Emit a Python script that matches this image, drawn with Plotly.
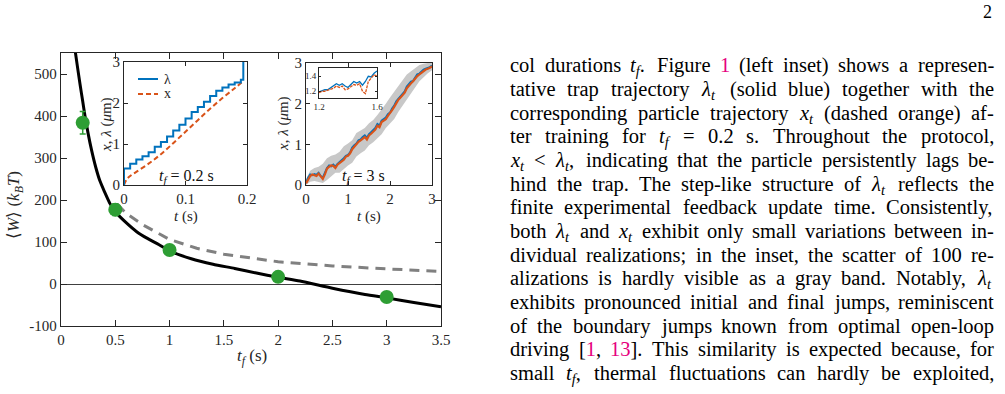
import re
import plotly.graph_objects as go

W, H = 1005, 394
SERIF = "Liberation Serif, Times New Roman, serif"
AX = "#262626"
BLUE = "#0072bd"
ORANGE = "#d95319"
GREEN = "#2e9e34"
MAG = "#e6007e"

# ---------------- main panel data ----------------
tf_exp = [0.2, 0.5, 1.0, 2.0, 3.0]
W_exp = [384, 177, 81, 17, -31]
W_err = [27, 14, 4, 4, 4]

tf_fb = [0.13, 0.15, 0.175, 0.2, 0.221, 0.25, 0.282, 0.32, 0.359, 0.4, 0.45, 0.5,
         0.6, 0.7, 0.8, 0.9, 1.0, 1.2, 1.4, 1.6, 1.8, 2.0, 2.2, 2.5, 2.8, 3.0, 3.25, 3.5]
W_fb = [556, 520, 476, 435, 400, 358, 318, 278, 245, 220, 192, 172,
        146, 124, 108, 94, 79, 60, 47, 37, 26, 16, 7, -10, -25, -33, -44, -54]

tf_ol = [0.52, 0.6, 0.76, 1.0, 1.25, 1.5, 2.0, 2.5, 3.0, 3.5]
W_ol = [190, 168, 140, 106, 85, 71, 53, 43, 36, 30]

x_main_ticks = [0, 0.5, 1, 1.5, 2, 2.5, 3, 3.5]
x_main_labels = ["0", "0.5", "1", "1.5", "2", "2.5", "3", "3.5"]
y_main_ticks = [-100, 0, 100, 200, 300, 400, 500]
y_main_labels = ["-100", "0", "100", "200", "300", "400", "500"]

# ---------------- left inset (tf = 0.2 s) ----------------
t_lam = [0, 0, 0.01, 0.02, 0.03, 0.04, 0.05, 0.06, 0.07, 0.08, 0.09, 0.10, 0.11,
         0.12, 0.13, 0.14, 0.15, 0.16, 0.17, 0.18, 0.19, 0.194, 0.2]
lam = [0, 0.40, 0.52, 0.62, 0.70, 0.80, 0.93, 1.05, 1.18, 1.33, 1.47, 1.62, 1.78,
       1.90, 2.03, 2.17, 2.30, 2.38, 2.45, 2.50, 2.57, 3.05, 3.05]
t_x = [0, 0.005, 0.01, 0.02, 0.04, 0.06, 0.08, 0.10, 0.12, 0.14, 0.16, 0.18, 0.195]
x_pos = [0, 0.15, 0.22, 0.32, 0.52, 0.75, 1.02, 1.30, 1.58, 1.86, 2.12, 2.36, 2.55]

# ---------------- right inset (tf = 3 s) ----------------
t3 = [0.00, 0.05, 0.10, 0.15, 0.20, 0.25, 0.30, 0.35, 0.40, 0.45, 0.50, 0.55, 0.60, 0.65,
      0.70, 0.75, 0.80, 0.85, 0.90, 0.95, 1.00, 1.05, 1.10, 1.15, 1.20, 1.25, 1.30, 1.35,
      1.40, 1.45, 1.50, 1.55, 1.60, 1.65, 1.70, 1.75, 1.80, 1.85, 1.90, 1.95, 2.00, 2.05,
      2.10, 2.15, 2.20, 2.25, 2.30, 2.35, 2.40, 2.45, 2.50, 2.55, 2.60, 2.65, 2.70, 2.75,
      2.80, 2.85, 2.90, 2.95, 3.00]
lam3 = [0.05, 0.18, 0.26, 0.24, 0.27, 0.25, 0.30, 0.22, 0.18, 0.30, 0.42, 0.48, 0.46, 0.50,
        0.45, 0.52, 0.56, 0.60, 0.66, 0.72, 0.74, 0.80, 0.92, 0.98, 1.02, 1.10, 1.12, 1.18,
        1.22, 1.16, 1.25, 1.30, 1.36, 1.40, 1.50, 1.46, 1.58, 1.62, 1.66, 1.74, 1.78, 1.88,
        1.95, 2.06, 2.12, 2.18, 2.22, 2.30, 2.42, 2.48, 2.54, 2.56, 2.66, 2.72, 2.74, 2.80,
        2.84, 2.86, 2.88, 2.90, 2.94]
x3 = [0.04, 0.15, 0.22, 0.26, 0.24, 0.22, 0.28, 0.20, 0.15, 0.26, 0.40, 0.45, 0.48, 0.47,
      0.42, 0.50, 0.53, 0.58, 0.62, 0.70, 0.72, 0.78, 0.88, 0.95, 1.00, 1.06, 1.10, 1.14,
      1.18, 1.12, 1.22, 1.26, 1.32, 1.36, 1.46, 1.42, 1.55, 1.58, 1.62, 1.70, 1.76, 1.84,
      1.92, 2.02, 2.10, 2.15, 2.20, 2.27, 2.38, 2.45, 2.50, 2.55, 2.62, 2.68, 2.72, 2.76,
      2.82, 2.84, 2.86, 2.88, 2.92]
t_band = [0.0, 0.1, 0.2, 0.3, 0.4, 0.5, 0.6, 0.7, 0.8, 0.9, 1.0, 1.1, 1.2, 1.3, 1.4, 1.5,
          1.6, 1.7, 1.8, 1.9, 2.0, 2.1, 2.2, 2.3, 2.4, 2.5, 2.6, 2.7, 2.8, 2.9, 3.0]
band_lo = [0.00, 0.08, 0.10, 0.08, 0.05, 0.12, 0.22, 0.30, 0.30, 0.40, 0.48, 0.55, 0.70,
           0.78, 0.85, 0.98, 1.05, 1.15, 1.25, 1.40, 1.52, 1.62, 1.80, 1.95, 2.10, 2.25,
           2.40, 2.55, 2.65, 2.75, 2.82]
band_hi = [0.15, 0.35, 0.42, 0.45, 0.52, 0.66, 0.72, 0.75, 0.82, 0.95, 1.02, 1.10, 1.28,
           1.35, 1.40, 1.52, 1.60, 1.72, 1.85, 2.00, 2.15, 2.30, 2.45, 2.60, 2.72, 2.80,
           2.88, 2.95, 2.98, 3.00, 3.00]

# zoomed sub-inset
t_zoom = [1.20, 1.22, 1.24, 1.26, 1.28, 1.30, 1.32, 1.34, 1.36, 1.38, 1.40, 1.42, 1.44,
          1.46, 1.48, 1.50, 1.52, 1.54, 1.56, 1.58, 1.60]
lam_zoom = [1.19, 1.21, 1.22, 1.22, 1.25, 1.27, 1.30, 1.28, 1.30, 1.27, 1.25, 1.29, 1.33,
            1.31, 1.33, 1.28, 1.33, 1.40, 1.39, 1.44, 1.47]
x_zoom = [1.18, 1.20, 1.20, 1.21, 1.23, 1.24, 1.27, 1.25, 1.27, 1.22, 1.23, 1.26, 1.29,
          1.28, 1.30, 1.20, 1.17, 1.33, 1.38, 1.42, 1.40]

# ---------------- body text ----------------
REF = "<span style='color:" + MAG + "'>"
body_lines = [
    "col durations <i>t<sub>f</sub></i>. Figure " + REF + "1</span> (left inset) shows a represen-",
    "tative trap trajectory <i>λ<sub>t</sub></i> (solid blue) together with the",
    "corresponding particle trajectory <i>x<sub>t</sub></i> (dashed orange) af-",
    "ter training for <i>t<sub>f</sub></i> = 0.2 s. Throughout the protocol,",
    "<i>x<sub>t</sub></i> &lt; <i>λ<sub>t</sub></i>, indicating that the particle persistently lags be-",
    "hind the trap. The step-like structure of <i>λ<sub>t</sub></i> reflects the",
    "finite experimental feedback update time. Consistently,",
    "both <i>λ<sub>t</sub></i> and <i>x<sub>t</sub></i> exhibit only small variations between in-",
    "dividual realizations; in the inset, the scatter of 100 re-",
    "alizations is hardly visible as a gray band. Notably, <i>λ<sub>t</sub></i>",
    "exhibits pronounced initial and final jumps, reminiscent",
    "of the boundary jumps known from optimal open-loop",
    "driving [" + REF + "1</span>, " + REF + "13</span>]. This similarity is expected because, for",
    "small <i>t<sub>f</sub></i>, thermal fluctuations can hardly be exploited,",
]

# ---------------- helpers ----------------
def pxx(x):
    return x / W

def pyy(y):
    return 1 - y / H

CW = {'a': 444, 'b': 500, 'c': 444, 'd': 500, 'e': 444, 'f': 333, 'g': 500, 'h': 500,
      'i': 278, 'j': 278, 'k': 500, 'l': 278, 'm': 778, 'n': 500, 'o': 500, 'p': 500,
      'q': 500, 'r': 333, 's': 389, 't': 278, 'u': 500, 'v': 500, 'w': 722, 'x': 500,
      'y': 500, 'z': 444, '.': 250, ',': 250, '-': 333, '(': 333, ')': 333, ';': 278,
      '[': 333, ']': 333, '=': 564, '<': 564, ' ': 250, 'F': 556, 'T': 611, 'C': 667,
      'N': 722, 'λ': 540}

def word_width(html, fs):
    w = 0.0
    sub = False
    ital = False
    for tok in re.split(r'(<[^>]+>)', html):
        if tok.startswith('<'):
            if tok.startswith('<sub'):
                sub = True
            elif tok.startswith('</sub'):
                sub = False
            elif tok == '<i>':
                ital = True
            elif tok == '</i>':
                ital = False
                w += 0.08  # italic correction
            continue
        tok = tok.replace('&lt;', '<')
        for ch in tok:
            cw = CW.get(ch, 500)
            if ital and ch == 'x':
                cw = 444
            if ital and ch == 'f':
                cw = 278
            w += cw / 1000.0 * (0.7 if sub else 1.0)
    return w * fs

fig = go.Figure()

# main panel
fig.add_trace(go.Scatter(x=tf_ol, y=W_ol, mode="lines", xaxis="x", yaxis="y",
                         line=dict(color="#808080", width=3, dash="10px,7px"),
                         showlegend=False, hoverinfo="skip"))
fig.add_trace(go.Scatter(x=tf_fb, y=W_fb, mode="lines", xaxis="x", yaxis="y",
                         line=dict(color="black", width=3, shape="spline", smoothing=0.6),
                         showlegend=False, hoverinfo="skip"))
fig.add_trace(go.Scatter(x=tf_exp, y=W_exp, mode="markers", xaxis="x", yaxis="y",
                         marker=dict(color=GREEN, size=14),
                         error_y=dict(type="data", array=W_err, color=GREEN, thickness=1.5, width=3),
                         showlegend=False, hoverinfo="skip"))

# left inset
fig.add_trace(go.Scatter(x=t_x, y=x_pos, mode="lines", xaxis="x2", yaxis="y2",
                         line=dict(color=ORANGE, width=2, dash="5px,3px", shape="spline"),
                         showlegend=False))
fig.add_trace(go.Scatter(x=t_lam, y=lam, mode="lines", xaxis="x2", yaxis="y2",
                         line=dict(color=BLUE, width=2, shape="hv"), showlegend=False))

# right inset
fig.add_trace(go.Scatter(x=t_band, y=band_lo, mode="lines", xaxis="x3", yaxis="y3",
                         line=dict(color="#c8c8c8", width=0), showlegend=False))
fig.add_trace(go.Scatter(x=t_band, y=band_hi, mode="lines", xaxis="x3", yaxis="y3",
                         line=dict(color="#c8c8c8", width=0), fill="tonexty",
                         fillcolor="#c8c8c8", showlegend=False))
fig.add_trace(go.Scatter(x=t3, y=lam3, mode="lines", xaxis="x3", yaxis="y3",
                         line=dict(color=BLUE, width=2), showlegend=False))
fig.add_trace(go.Scatter(x=t3, y=x3, mode="lines", xaxis="x3", yaxis="y3",
                         line=dict(color=ORANGE, width=2.2), showlegend=False))

# zoomed sub-inset
fig.add_trace(go.Scatter(x=t_zoom, y=lam_zoom, mode="lines", xaxis="x4", yaxis="y4",
                         line=dict(color=BLUE, width=1.3), showlegend=False))
fig.add_trace(go.Scatter(x=t_zoom, y=x_zoom, mode="lines", xaxis="x4", yaxis="y4",
                         line=dict(color=ORANGE, width=1.3, dash="3px,1px"), showlegend=False))

def axis(domain, rng, anchor, tickvals, ticktext, size=15, ticklen=6, lw=1.3, **kw):
    d = dict(domain=domain, range=rng, anchor=anchor, showline=True, mirror="ticks",
             linecolor=AX, linewidth=lw, ticks="inside", ticklen=ticklen, tickcolor=AX,
             tickwidth=1, tickvals=tickvals, ticktext=ticktext, showgrid=False,
             zeroline=False, automargin=False,
             tickfont=dict(family=SERIF, size=size, color=AX))
    d.update(kw)
    return d

layout = dict(
    template="none",
    width=W, height=H, margin=dict(l=0, r=0, t=0, b=0, pad=0, autoexpand=False),
    paper_bgcolor="white", plot_bgcolor="white", showlegend=False,
    xaxis=axis([pxx(61), pxx(441)], [0, 3.5], "y", x_main_ticks, x_main_labels),
    yaxis=axis([pyy(326), pyy(53)], [-100, 550], "x", y_main_ticks, y_main_labels,
               zeroline=True, zerolinecolor="#404040", zerolinewidth=1.2),
    xaxis2=axis([pxx(124), pxx(247)], [0, 0.2], "y2", [0, 0.1, 0.2], ["0", "0.1", "0.2"],
                ticklen=4, lw=1.1),
    yaxis2=axis([pyy(185), pyy(62)], [0, 3], "x2", [0, 1, 2, 3], ["0", "1", "2", "3"],
                ticklen=4, lw=1.1),
    xaxis3=axis([pxx(306), pxx(432)], [0, 3], "y3", [0, 1, 2, 3], ["0", "1", "2", "3"],
                ticklen=4, lw=1.1),
    yaxis3=axis([pyy(185), pyy(63)], [0, 3], "x3", [0, 1, 2, 3], ["0", "1", "2", "3"],
                ticklen=4, lw=1.1),
    xaxis4=axis([pxx(319), pxx(377)], [1.2, 1.6], "y4", [1.2, 1.6], ["1.2", "1.6"],
                size=9, ticklen=2, lw=1),
    yaxis4=axis([pyy(98), pyy(68)], [1.11, 1.51], "x4", [1.2, 1.4], ["1.2", "1.4"],
                size=9, ticklen=2, lw=1),
)
fig.update_layout(**layout)

ann = []
def add_text(x, y, text, size, xanchor="center", yanchor="middle", angle=0, color=AX):
    ann.append(dict(x=pxx(x), y=pyy(y), xref="paper", yref="paper", text=text,
                    showarrow=False, xanchor=xanchor, yanchor=yanchor, textangle=angle,
                    borderpad=0, font=dict(family=SERIF, size=size, color=color)))

# axis titles
add_text(252, 357, "<i>t<sub>f</sub></i> (s)", 17)
add_text(15, 205, "⟨<i>W</i>⟩ (<i>k<sub>B</sub>T</i>)", 17, angle=-90)
add_text(106, 125, "<i>x</i>, <i>λ</i> (<i>μ</i>m)", 15, angle=-90)
add_text(186, 216, "<i>t</i> (s)", 15)
add_text(283, 124, "<i>x</i>, <i>λ</i> (<i>μ</i>m)", 15, angle=-90)
add_text(369, 216, "<i>t</i> (s)", 15)
add_text(186, 176, "<i>t<sub>f</sub></i> = 0.2 s", 16, color="#111111")
add_text(363, 176, "<i>t<sub>f</sub></i> = 3 s", 16, color="#111111")

# legend of left inset
shapes = [
    dict(type="line", xref="paper", yref="paper", x0=pxx(138), x1=pxx(158), y0=pyy(79), y1=pyy(79),
         line=dict(color=BLUE, width=2)),
    dict(type="line", xref="paper", yref="paper", x0=pxx(138), x1=pxx(158), y0=pyy(94), y1=pyy(94),
         line=dict(color=ORANGE, width=2, dash="5px,3px")),
]
add_text(163, 79, "λ", 14, xanchor="left")
add_text(163, 93, "x", 14, xanchor="left")

# page number
add_text(993, 12, "2", 18, xanchor="right", color="black")

# justified body text, word by word (split on spaces outside of tags)
FS = 20.5
X0, X1 = 509, 993
BASE0, LEAD = 71.7, 23.65
for i, line in enumerate(body_lines):
    words = re.split(r' (?![^<]*>)', line)
    widths = [word_width(w_, FS) for w_ in words]
    gap = (X1 - X0 - sum(widths)) / max(len(words) - 1, 1)
    gap = max(gap, 0.2 * FS)
    xcur = X0
    ytop = BASE0 + LEAD * i - 0.891 * FS
    for w_, wd in zip(words, widths):
        add_text(xcur, ytop, w_, FS, xanchor="left", yanchor="top", color="black")
        xcur += wd + gap

fig.update_layout(annotations=ann, shapes=shapes)
fig.write_html("out.html")
